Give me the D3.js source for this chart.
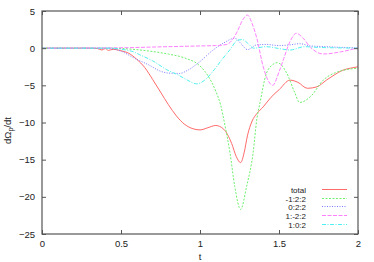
<!DOCTYPE html>
<html><head><meta charset="utf-8">
<script src="https://cdn.jsdelivr.net/npm/d3@7"></script>
<style>
html,body{margin:0;padding:0;background:#fff;}
svg{display:block;font-family:"Liberation Sans",Arial,sans-serif;}
</style></head>
<body>
<svg id="c" width="374" height="262"></svg>
<script>
const xTicks=[0,0.5,1,1.5,2];
const yTicks=[5,0,-5,-10,-15,-20,-25];
const seriesNames=["total","-1:2:2","0:2:2","1:-2:2","1:0:2"];

const tTotal=[0,0.3,0.35,0.38,0.4,0.42,0.45,0.5,0.55,0.6,0.65,0.7,0.75,0.8,0.85,0.9,0.95,1.0,1.05,1.1,1.15,1.2,1.23,1.257,1.28,1.3,1.33,1.36,1.4,1.45,1.5,1.57,1.62,1.68,1.74,1.8,1.85,1.9,1.95,2.0];
const vTotal=[0,0,-0.05,-0.25,-0.05,-0.3,-0.15,-0.35,-0.7,-1.5,-2.6,-4.2,-5.9,-7.6,-9.1,-10.2,-10.8,-11.0,-10.7,-10.4,-10.9,-12.8,-14.6,-15.4,-14.0,-11.8,-9.8,-8.8,-7.9,-6.6,-5.6,-4.3,-4.6,-5.4,-5.2,-4.3,-3.6,-3.0,-2.7,-2.5];

const tG=[0,0.4,0.5,0.6,0.7,0.8,0.9,1.0,1.05,1.1,1.13,1.16,1.19,1.22,1.257,1.295,1.336,1.36,1.38,1.42,1.45,1.49,1.55,1.6,1.63,1.7,1.78,1.87,2.0];
const vG=[0,0,-0.05,-0.2,-0.45,-0.8,-1.3,-2.4,-3.7,-5.8,-7.6,-10.6,-14.1,-18.6,-21.7,-18.6,-14.1,-9.5,-7.3,-3.4,-2.4,-1.95,-3.4,-6.0,-7.3,-6.5,-4.3,-3.2,-2.7];

const tB=[0,0.4,0.45,0.5,0.58,0.68,0.75,0.8,0.87,0.92,1.0,1.08,1.15,1.22,1.26,1.3,1.36,1.42,1.5,1.57,1.63,1.7,1.8,1.9,2.0];
const vB=[0,0,-0.1,-0.4,-1.3,-2.3,-3.1,-3.35,-3.4,-3.0,-1.8,-0.3,0.7,1.33,0.6,-0.2,0.45,0.5,0.35,0.45,0.6,0.3,0.2,0.1,0.05];

const tM=[0,0.5,0.7,0.9,1.0,1.1,1.17,1.2,1.235,1.27,1.3,1.33,1.36,1.4,1.43,1.46,1.5,1.53,1.57,1.61,1.65,1.7,1.78,1.89,2.0];
const vM=[0,0.05,0.15,0.25,0.3,0.35,0.5,1.0,2.2,3.8,4.45,3.3,1.3,-2.5,-4.3,-5.0,-3.2,-1.4,0.9,2.0,1.4,0.1,-0.78,-0.5,0.05];

const tC=[0,0.45,0.5,0.58,0.62,0.7,0.79,0.87,0.92,0.98,1.03,1.09,1.14,1.19,1.24,1.27,1.3,1.34,1.42,1.5,1.57,1.66,1.75,1.85,2.0];
const vC=[0,0,-0.15,-0.5,-0.9,-1.7,-2.9,-3.7,-4.3,-4.8,-4.3,-2.9,-1.5,-0.2,1.1,1.15,0.7,0.0,0.2,-0.05,-0.25,0.2,0.1,0.05,0];

const series=[
 {name:seriesNames[0],t:tTotal,v:vTotal,color:"#ff6a6a",dash:null},
 {name:seriesNames[1],t:tG,v:vG,color:"#6ef06e",dash:"2,1.5"},
 {name:seriesNames[2],t:tB,v:vB,color:"#7a7aff",dash:"1,1.5"},
 {name:seriesNames[3],t:tM,v:vM,color:"#ff80ff",dash:"4,1.5"},
 {name:seriesNames[4],t:tC,v:vC,color:"#50f0f0",dash:"4,1.5,1,1.5"}
];

const L=42,R=358,T=11,B=234;
const x=d3.scaleLinear().domain([0,2]).range([L,R]);
const y=d3.scaleLinear().domain([-25,5]).range([B,T]);
const svg=d3.select("#c");
const g=svg.append("g");

svg.append("defs").append("clipPath").attr("id","cp").append("rect")
 .attr("x",L).attr("y",T).attr("width",R-L).attr("height",B-T);

const line=d3.line().x(d=>x(d[0])).y(d=>y(d[1])).curve(d3.curveMonotoneX);
const plot=g.append("g").attr("clip-path","url(#cp)");
series.forEach(s=>{
  const pts=s.t.map((t,i)=>[t,s.v[i]]);
  plot.append("path").attr("d",line(pts)).attr("fill","none")
   .attr("stroke",s.color).attr("stroke-width",1)
   .attr("stroke-dasharray",s.dash);
});

const axB=d3.axisBottom(x).tickValues(xTicks).tickSizeInner(-4).tickSizeOuter(0).tickPadding(6).tickFormat(d3.format("~g"));
const axT=d3.axisTop(x).tickValues(xTicks).tickSizeInner(-4).tickSizeOuter(0).tickFormat("");
const axL=d3.axisLeft(y).tickValues(yTicks).tickSizeInner(-4).tickSizeOuter(0).tickPadding(7).tickFormat(d3.format("~g"));
const axR=d3.axisRight(y).tickValues(yTicks).tickSizeInner(-4).tickSizeOuter(0).tickFormat("");
function style(sel){
  sel.select(".domain").remove();
  sel.selectAll("line").attr("stroke","#555");
  sel.selectAll("text").attr("fill","#222").style("font-size","9.5px").style("font-family","Liberation Sans, Arial, sans-serif");
}
g.append("g").attr("transform",`translate(0,${B})`).call(axB).call(style);
g.append("g").attr("transform",`translate(0,${T})`).call(axT).call(style);
g.append("g").attr("transform",`translate(${L},0)`).call(axL).call(style);
g.append("g").attr("transform",`translate(${R},0)`).call(axR).call(style);

g.append("rect").attr("x",L).attr("y",T).attr("width",R-L).attr("height",B-T)
 .attr("fill","none").attr("stroke","#555").attr("stroke-width",1.2);

g.append("text").attr("x",(L+R)/2).attr("y",260).attr("text-anchor","middle")
 .attr("fill","#222").style("font-size","9.5px").text("t");
const yl=g.append("text").attr("transform",`translate(11,${(T+B)/2+8}) rotate(-90)`)
 .attr("text-anchor","middle").attr("fill","#222").style("font-size","9.5px");
yl.append("tspan").text("dΩ");
yl.append("tspan").attr("baseline-shift","-25%").style("font-size","7px").text("p");
yl.append("tspan").text("/dt");

const lg=g.append("g");
series.forEach((s,i)=>{
  const yy=Math.round(189+i*8.7)+0.5;
  lg.append("text").attr("x",306).attr("y",yy+3).attr("text-anchor","end")
   .attr("fill","#222").style("font-size","8px").text(s.name);
  lg.append("line").attr("x1",322).attr("x2",347).attr("y1",yy).attr("y2",yy)
   .attr("stroke",s.color).attr("stroke-width",1).attr("stroke-dasharray",s.dash);
});
</script>
</body></html>
